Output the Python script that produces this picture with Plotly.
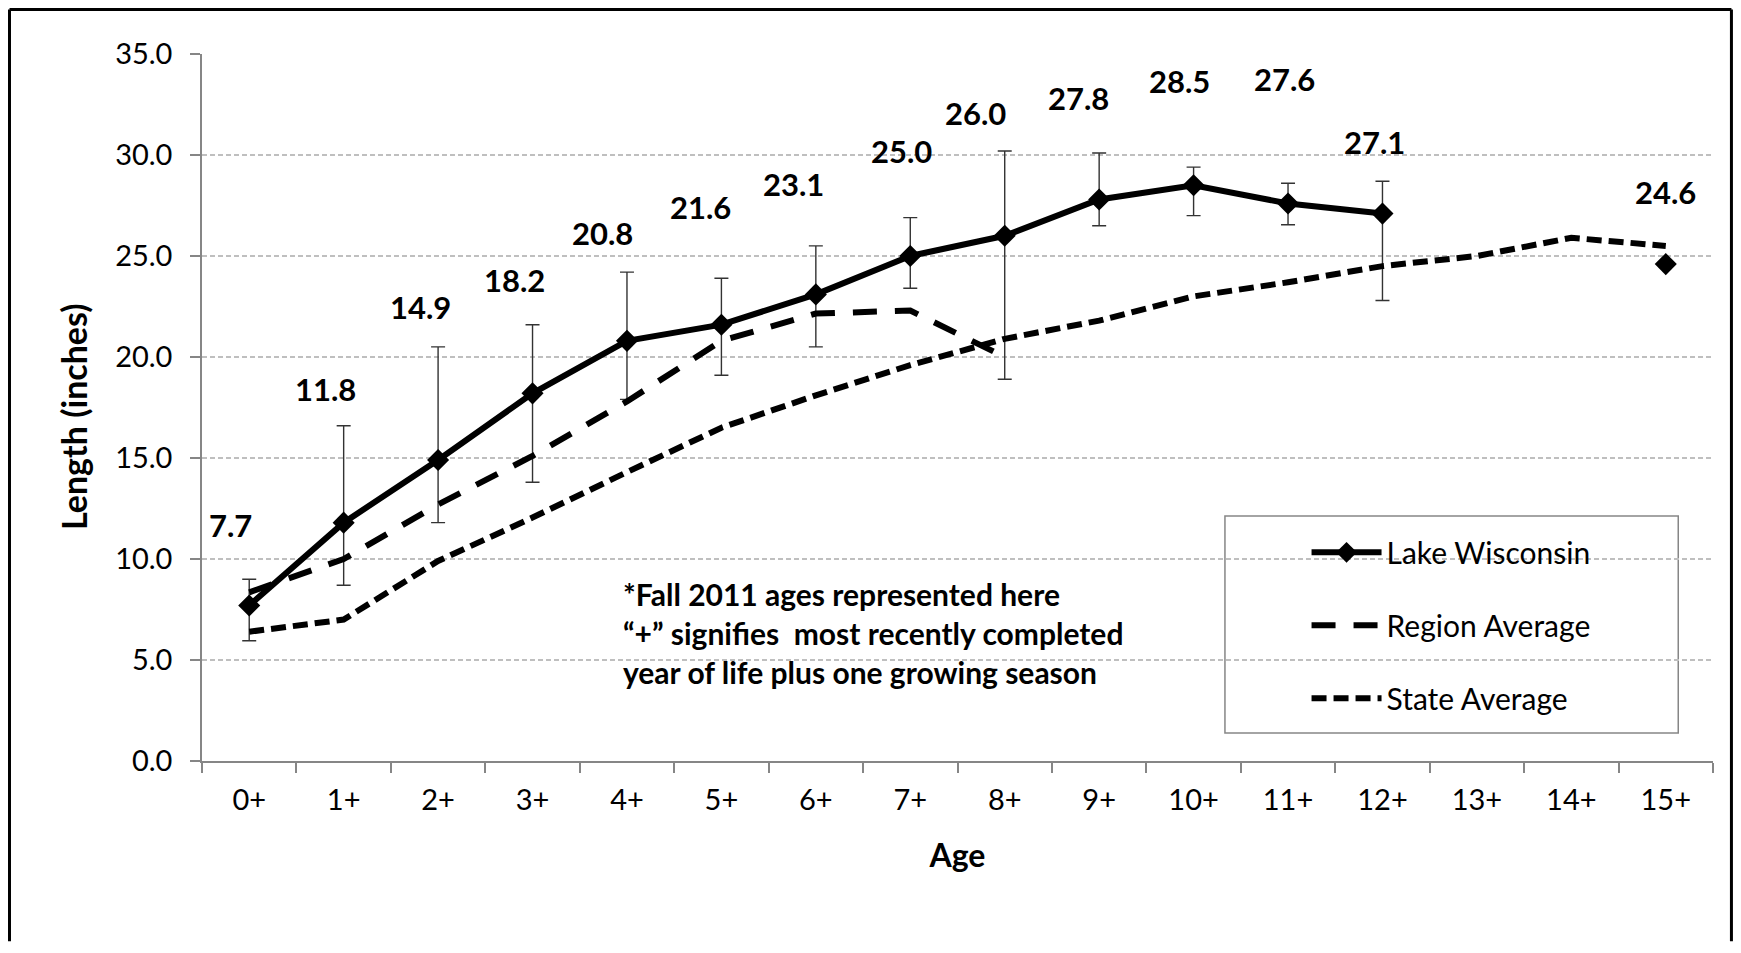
import plotly.graph_objects as go

ages = ["0+", "1+", "2+", "3+", "4+", "5+", "6+", "7+", "8+", "9+", "10+", "11+", "12+", "13+", "14+", "15+"]
lake = [7.7, 11.8, 14.9, 18.2, 20.8, 21.6, 23.1, 25.0, 26.0, 27.8, 28.5, 27.6, 27.1, None, None, 24.6]
lake_upper = [9.0, 16.6, 20.5, 21.6, 24.2, 23.9, 25.5, 26.9, 30.2, 30.1, 29.4, 28.6, 28.7, None, None, None]
lake_lower = [5.95, 8.7, 11.8, 13.8, 17.9, 19.1, 20.5, 23.4, 18.9, 26.5, 27.0, 26.55, 22.8, None, None, None]
region = [8.35, 10.0, 12.7, 15.1, 17.8, 20.8, 22.15, 22.3, 20.0, None, None, None, None, None, None, None]
state = [6.4, 7.0, 9.9, 12.05, 14.3, 16.5, 18.1, 19.6, 20.9, 21.8, 23.0, 23.7, 24.5, 25.0, 25.9, 25.5]

# label placement offsets (pixels) for the data labels
label_dx = [-19, -18, -18, -18, -24, -21, -22, -9, -29, -21, -14, -4, -8, 0, 0, 0]
label_dy = [80, 134, 153, 113, 108, 118, 110, 105, 123, 101, 104, 124, 72, 0, 0, 72]

err_plus = [None if v is None or u is None else u - v for v, u in zip(lake, lake_upper)]
err_minus = [None if v is None or l is None else v - l for v, l in zip(lake, lake_lower)]

FONT = "Lato"

fig = go.Figure()

fig.add_trace(go.Scatter(
    x=ages, y=lake, name="Lake Wisconsin", mode="lines+markers",
    line=dict(color="black", width=6),
    marker=dict(symbol="diamond", size=17, color="black"),
    error_y=dict(type="data", symmetric=False, array=err_plus, arrayminus=err_minus,
                 color="#333333", thickness=1.4, width=7),
    connectgaps=False, legendgroup="a",
))
fig.add_trace(go.Scatter(
    x=ages, y=region, name="Region Average", mode="lines",
    line=dict(color="black", width=6, dash="24px,18px"),
    connectgaps=False, legendgroup="b",
))
fig.add_trace(go.Scatter(
    x=ages, y=state, name="State Average", mode="lines",
    line=dict(color="black", width=6, dash="15px,7px"),
    connectgaps=False, legendgroup="c",
))

annotations = []
for a, v, dx, dy in zip(ages, lake, label_dx, label_dy):
    if v is None:
        continue
    annotations.append(dict(
        x=a, y=v, xref="x", yref="y", text=f"<b>{v:.1f}</b>", showarrow=False,
        xshift=dx, yshift=dy, font=dict(family=FONT, size=31, color="black"),
    ))

annotations.append(dict(
    x=0.277, y=0.181, xref="paper", yref="paper", xanchor="left", yanchor="middle",
    align="left", showarrow=False,
    text="<b>*Fall 2011 ages represented here<br>\u201c+\u201d signifies  most recently completed<br>year of life plus one growing season</b>",
    font=dict(family=FONT, size=30, color="black"),
))
annotations.append(dict(
    x=-0.0847, y=0.4866, xref="paper", yref="paper", xanchor="center", yanchor="middle",
    textangle=-90, showarrow=False, text="<b>Length (inches)</b>",
    font=dict(family=FONT, size=34, color="black"),
))

frame = dict(color="black", width=3)
shapes = [
    dict(type="rect", xref="paper", yref="paper", x0=0.677, x1=0.977, y0=0.0396, y1=0.3465,
         line=dict(color="#868686", width=1.5), fillcolor="white", layer="below"),
    dict(type="line", xref="paper", yref="paper", x0=-0.1274, x1=-0.1274, y0=-0.255, y1=1.0629, line=frame),
    dict(type="line", xref="paper", yref="paper", x0=1.0122, x1=1.0122, y0=-0.255, y1=1.0629, line=frame),
    dict(type="line", xref="paper", yref="paper", x0=-0.1274, x1=1.0122, y0=1.0629, y1=1.0629, line=frame),
]

fig.update_layout(
    width=1725, height=937,
    margin=dict(l=194, r=20, t=46, b=184),
    paper_bgcolor="white", plot_bgcolor="white",
    font=dict(family=FONT, size=29, color="black"),
    showlegend=True,
    legend=dict(x=0.731, y=0.332, xanchor="left", yanchor="top",
                bgcolor="rgba(0,0,0,0)", borderwidth=0,
                font=dict(family=FONT, size=30, color="black"),
                tracegroupgap=31, itemwidth=70),
    annotations=annotations,
    shapes=shapes,
)

fig.update_xaxes(
    type="category", categoryorder="array", categoryarray=ages,
    range=[-0.5, 15.5],
    showline=True, linecolor="#868686", linewidth=1.5,
    ticks="outside", tickson="boundaries", ticklen=10, tickcolor="#868686", tickwidth=1.5,
    ticklabelstandoff=12,
    showgrid=False, tickfont=dict(family=FONT, size=29, color="black"),
    title=dict(text="<b>Age</b>", font=dict(family=FONT, size=32, color="black"), standoff=30),
)
fig.update_yaxes(
    range=[0, 35], dtick=5, tickformat=".1f",
    showline=True, linecolor="#868686", linewidth=1.5,
    ticks="outside", ticklen=10, tickcolor="#868686", tickwidth=1.5,
    ticklabelstandoff=12,
    showgrid=True, gridcolor="#BFBFBF", gridwidth=1.5, griddash="5px,3px",
    zeroline=False, tickfont=dict(family=FONT, size=29, color="black"),
)

fig.write_html("out.html")
